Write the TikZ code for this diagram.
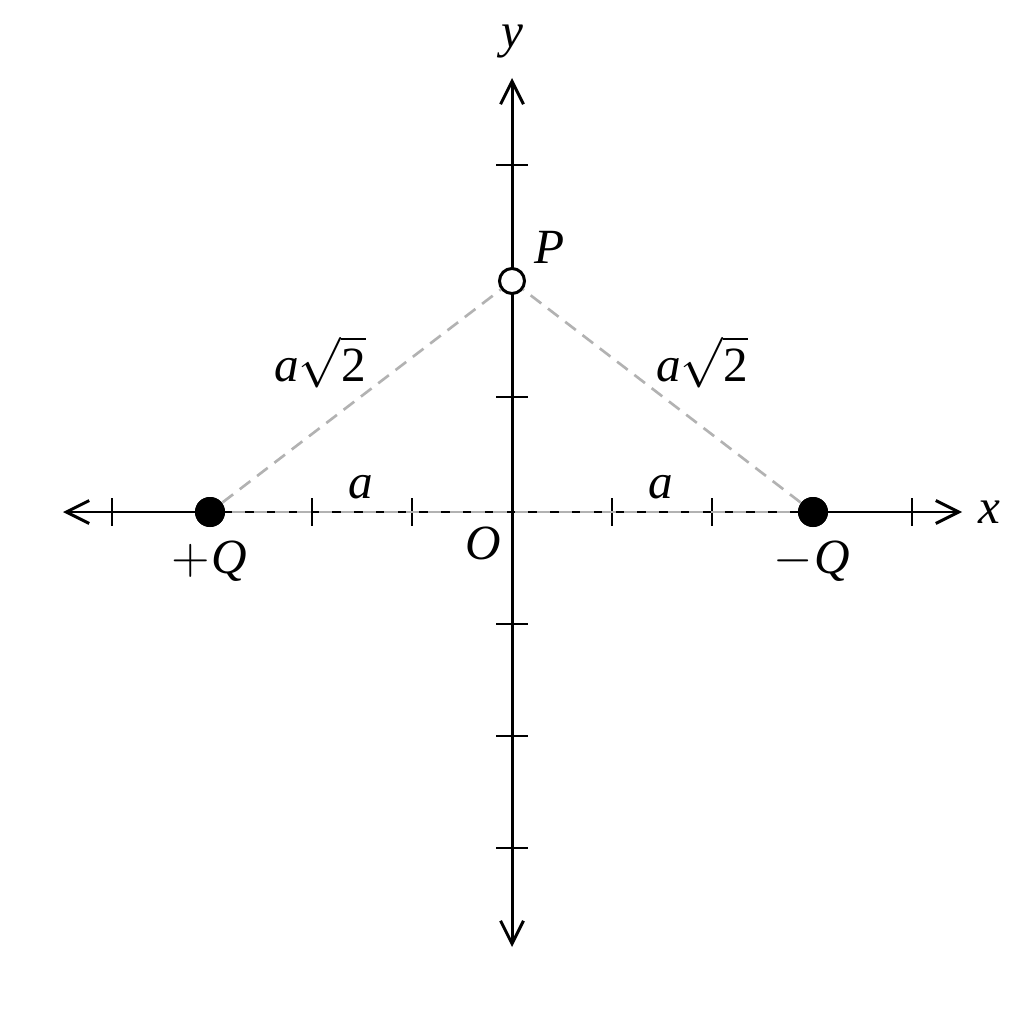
\documentclass[tikz,border=0pt]{standalone}
\usepackage{fontspec}
\setmainfont{Liberation Serif}
\usetikzlibrary{arrows.meta}
\begin{document}
\begin{tikzpicture}[x=0.1mm,y=-0.1mm,
  >={Straight Barb[length=6.5pt,width=6.5pt,line width=0.85pt]},
  axisline/.style={line width=0.85pt,<->},
  tickmark/.style={line width=0.6pt},
  guide/.style={color=black!30, line width=0.75pt, dash pattern=on 3.8pt off 2.4pt},
  charge/.style={circle, fill=black, inner sep=0pt, minimum size=3mm},
  pnt/.style={circle, draw=black, fill=white, line width=0.85pt, inner sep=0pt, minimum size=2.5mm},
  lbl/.style={font=\fontsize{14}{17}\selectfont\itshape, inner sep=0pt}
]
\useasboundingbox (0,0) rectangle (1024,1024);
\fill[white] (0,0) rectangle (1024,1024);

% axes
\coordinate (xl) at (63,512);
\coordinate (xr) at (962,512);
\coordinate (yt) at (512,78);
\coordinate (yb) at (512,947);
\draw[axisline] (xl) -- (xr);
\draw[axisline] (yb) -- (yt);

% ticks on x axis
\foreach \tx in {112,312,412,612,712,912}
  \draw[tickmark] (\tx,498) -- (\tx,526);
% ticks on y axis
\foreach \ty in {165,397,624,736,848}
  \draw[tickmark] (496,\ty) -- (528,\ty);

% charges and point
\node[charge] (qp) at (210,512) {};
\node[charge] (qm) at (813,512) {};
\node[pnt] (P) at (512,281) {};

% dashed guides
\draw[guide] (qp.center) -- (qm.center);
\draw[guide] (qp) -- (P);
\draw[guide] (qm) -- (P);

% redraw charges on top
\fill (qp) circle[radius=15];
\fill (qm) circle[radius=15];

% labels
\node[lbl] (ly) at (512,42) {y};
\node[lbl] (lx) at (989,512) {x};
\node[lbl] (lP) at (550,247) {P};
\node[lbl] (lO) at (483,543) {O};
\node[lbl] (lqp) at (209,561) {$+$\kern0.5pt Q};
\node[lbl] (lqm) at (812,561) {$-$\kern0.5pt Q};
\node[lbl] (ld1) at (320,362) {a$\sqrt{\mbox{\upshape 2}}$};
\node[lbl] (ld2) at (702,362) {a$\sqrt{\mbox{\upshape 2}}$};
\node[lbl] (la1) at (361,487) {a};
\node[lbl] (la2) at (661,487) {a};
\end{tikzpicture}
\end{document}
